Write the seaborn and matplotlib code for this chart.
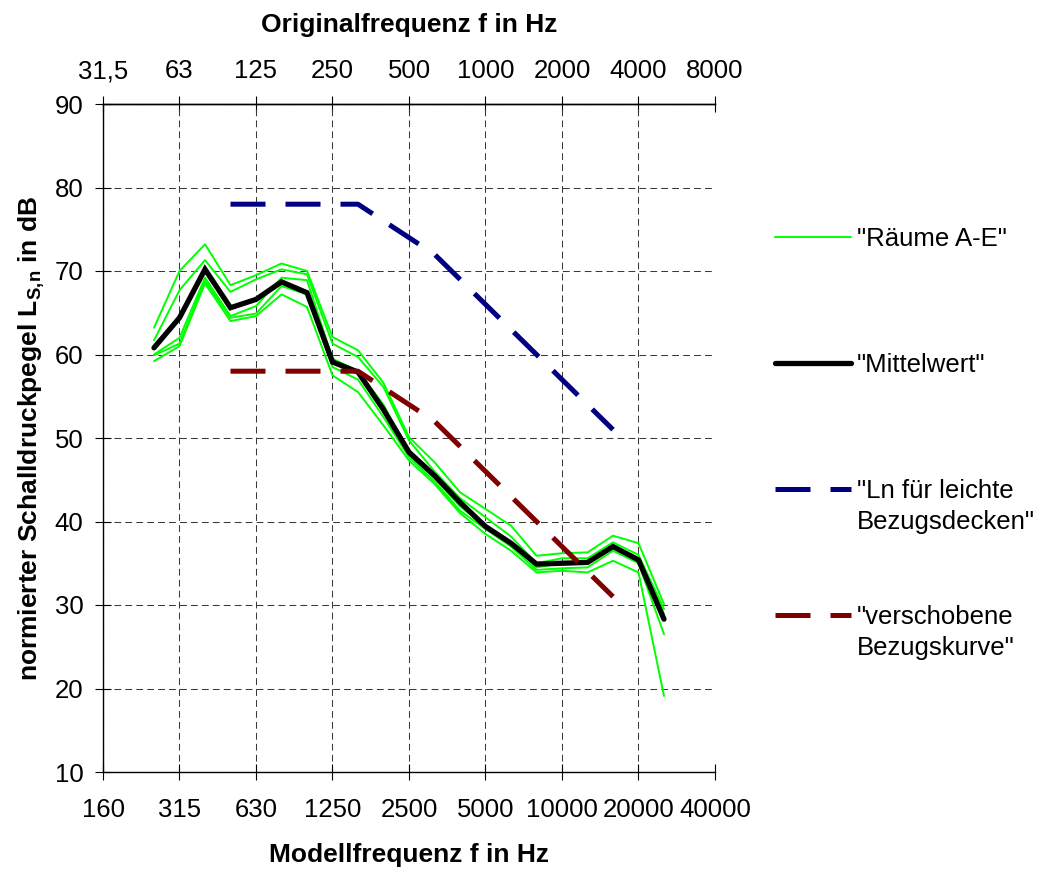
import matplotlib
matplotlib.use("Agg")
import matplotlib.pyplot as plt
import matplotlib.font_manager as fm
import numpy as np
import pandas as pd
import seaborn as sns

# ---------------- data ----------------
BANDS = [160, 200, 250, 315, 400, 500, 630, 800, 1000, 1250, 1600, 2000, 2500,
         3150, 4000, 5000, 6300, 8000, 10000, 12500, 16000, 20000, 25000, 31500, 40000]
MODEL_TICKS = [160, 315, 630, 1250, 2500, 5000, 10000, 20000, 40000]
MODEL_TICK_LABELS = ["160", "315", "630", "1250", "2500", "5000", "10000", "20000", "40000"]
ORIG_TICK_LABELS = ["31,5", "63", "125", "250", "500", "1000", "2000", "4000", "8000"]
Y_TICKS = [10, 20, 30, 40, 50, 60, 70, 80, 90]

MEAS_FREQ = [250, 315, 400, 500, 630, 800, 1000, 1250, 1600, 2000, 2500, 3150,
             4000, 5000, 6300, 8000, 10000, 12500, 16000, 20000, 25000]
ROOM_A = [63.2, 70.0, 73.2, 68.3, 69.5, 70.9, 70.0, 62.1, 60.5, 56.6, 50.1, 47.1,
          43.5, 41.5, 39.5, 35.9, 36.2, 36.3, 38.3, 37.4, 30.1]
ROOM_B = [61.7, 67.7, 71.3, 67.5, 69.0, 70.2, 69.6, 61.3, 59.7, 56.1, 49.7, 46.0,
          42.8, 40.5, 38.2, 35.0, 35.6, 35.6, 37.5, 36.0, 29.5]
ROOM_C = [60.0, 62.0, 69.2, 64.6, 65.8, 69.2, 68.9, 59.5, 58.0, 54.0, 48.0, 45.2,
          41.8, 39.5, 37.5, 34.5, 35.0, 35.2, 37.0, 35.5, 28.9]
ROOM_D = [59.9, 61.3, 68.8, 64.4, 64.9, 68.2, 67.2, 58.5, 57.0, 52.5, 47.7, 44.8,
          41.3, 39.1, 37.0, 34.2, 34.4, 34.5, 36.5, 35.0, 26.5]
ROOM_E = [59.2, 61.0, 68.5, 64.0, 64.6, 67.2, 65.7, 57.5, 55.5, 51.5, 47.3, 44.5,
          41.0, 38.5, 36.5, 33.9, 34.1, 33.9, 35.3, 33.9, 19.1]
MEAN = [60.8, 64.4, 70.2, 65.6, 66.6, 68.7, 67.4, 59.1, 57.9, 53.4, 48.3, 45.5,
        42.3, 39.4, 37.4, 34.9, 35.0, 35.1, 37.0, 35.4, 28.3]

REF_FREQ = [500, 630, 800, 1000, 1250, 1600, 2000, 2500, 3150, 4000, 5000, 6300,
            8000, 10000, 12500, 16000]
REF_LIGHT = [78, 78, 78, 78, 78, 78, 76, 74, 72, 69, 66, 63, 60, 57, 54, 51]
REF_SHIFTED = [58, 58, 58, 58, 58, 58, 56, 54, 52, 49, 46, 43, 40, 37, 34, 31]

LABELS = ['"Räume A-E"', '"Mittelwert"', '"Ln für leichte', '"verschobene']
LABELS_2ND = [None, None, 'Bezugsdecken"', 'Bezugskurve"']

# ---------------- fonts / style ----------------
fm.fontManager.ttflist = [f for f in fm.fontManager.ttflist
                          if "narrow" not in f.fname.lower()
                          and "narrow" not in f.name.lower()]
try:
    fm.fontManager._findfont_cached.cache_clear()
except Exception:
    pass

sns.set_style("white")
plt.rcParams["font.family"] = ["Liberation Sans", "DejaVu Sans"]
plt.rcParams["mathtext.fontset"] = "custom"
plt.rcParams["mathtext.rm"] = "Liberation Sans"
plt.rcParams["mathtext.bf"] = "Liberation Sans:bold"
plt.rcParams["mathtext.it"] = "Liberation Sans:italic"
for key in ["text.color", "axes.labelcolor", "xtick.color", "ytick.color",
            "axes.edgecolor"]:
    plt.rcParams[key] = "black"

TICK_FS = 18.5
LABEL_FS = 19
LEG_FS = 18.5

pos = {f: i for i, f in enumerate(BANDS)}

rooms = pd.DataFrame({
    "Raum": np.repeat(list("ABCDE"), len(MEAS_FREQ)),
    "x": [pos[f] for f in MEAS_FREQ] * 5,
    "L": ROOM_A + ROOM_B + ROOM_C + ROOM_D + ROOM_E,
})
mean_df = pd.DataFrame({"x": [pos[f] for f in MEAS_FREQ], "L": MEAN})
ref_df = pd.DataFrame({"x": [pos[f] for f in REF_FREQ],
                       "light": REF_LIGHT, "shifted": REF_SHIFTED})

fig = plt.figure(figsize=(10.44, 8.69), dpi=100)
ax = fig.add_axes([103 / 1044, 97 / 869, 612 / 1044, 668 / 869])

n0 = len(ax.lines)
sns.lineplot(data=rooms, x="x", y="L", units="Raum", estimator=None,
             color="#00FF00", lw=1.4, ax=ax, legend=False)
h_room = ax.lines[n0]
n0 = len(ax.lines)
sns.lineplot(data=mean_df, x="x", y="L", color="black", lw=3.8, ax=ax,
             legend=False, solid_joinstyle="miter")
h_mean = ax.lines[n0]
n0 = len(ax.lines)
sns.lineplot(data=ref_df, x="x", y="light", color="#000080", lw=3.6, ax=ax,
             legend=False, linestyle=(0, (7, 4)), dash_capstyle="butt")
h_light = ax.lines[n0]
n0 = len(ax.lines)
sns.lineplot(data=ref_df, x="x", y="shifted", color="#800000", lw=3.6, ax=ax,
             legend=False, linestyle=(0, (7, 4)), dash_capstyle="butt")
h_shift = ax.lines[n0]

# ---------------- axes ----------------
tick_pos = [pos[f] for f in MODEL_TICKS]
ax.set_xlim(tick_pos[0], tick_pos[-1])
ax.set_ylim(Y_TICKS[0], Y_TICKS[-1])
ax.set_xticks(tick_pos)
ax.set_xticklabels(MODEL_TICK_LABELS, fontsize=TICK_FS)
ax.set_yticks(Y_TICKS)
ax.set_yticklabels([str(v) for v in Y_TICKS], fontsize=TICK_FS)
ax.grid(True, color="#3a3a3a", linestyle=(0, (6.5, 4)), linewidth=0.75)
ax.set_axisbelow(True)

for side in ["left", "bottom", "top"]:
    ax.spines[side].set_visible(True)
    ax.spines[side].set_color("black")
    ax.spines[side].set_linewidth(1.0)
ax.spines["right"].set_visible(False)

ax.tick_params(axis="x", direction="inout", length=12, width=0.8, pad=12.5,
               colors="black", bottom=True)
ax.tick_params(axis="y", direction="inout", length=12, width=0.8, pad=8,
               colors="black", left=True)

ax.set_xlabel("Modellfrequenz f in Hz", fontsize=LABEL_FS, fontweight="bold")
ax.set_ylabel(r"normierter Schalldruckpegel $\mathbf{L_{S,\!n}}$ in dB",
              fontsize=LABEL_FS, fontweight="bold")
ax.xaxis.set_label_coords(0.5, -0.106)
ax.yaxis.set_label_coords(-0.091, 0.5)

sec = ax.secondary_xaxis("top")
sec.set_xticks(tick_pos)
sec.set_xticklabels(ORIG_TICK_LABELS, fontsize=TICK_FS)
sec.tick_params(axis="x", direction="inout", length=12, width=0.8, pad=9,
                colors="black")
sec.spines["top"].set_linewidth(1.0)
sec.set_xlabel("Originalfrequenz f in Hz", fontsize=LABEL_FS,
               fontweight="bold", labelpad=19.5)

# ---------------- legend ----------------
leg = fig.legend([h_room, h_mean, h_light, h_shift], LABELS,
                 loc="upper left", bbox_to_anchor=(775 / 1044, 1 - 227 / 869),
                 bbox_transform=fig.transFigure, frameon=False,
                 borderpad=0, borderaxespad=0, fontsize=LEG_FS,
                 handlelength=2.96, handletextpad=0.23, labelspacing=3.97)

fig.canvas.draw()
renderer = fig.canvas.get_renderer()
inv = fig.transFigure.inverted()
for txt, second in zip(leg.get_texts(), LABELS_2ND):
    if second is None:
        continue
    bb = txt.get_window_extent(renderer)
    x0, y0 = inv.transform((bb.x0, bb.y1 - 31))
    fig.text(x0, y0, second, fontsize=LEG_FS, ha="left", va="top")

fig.savefig("out.png", dpi=100)
